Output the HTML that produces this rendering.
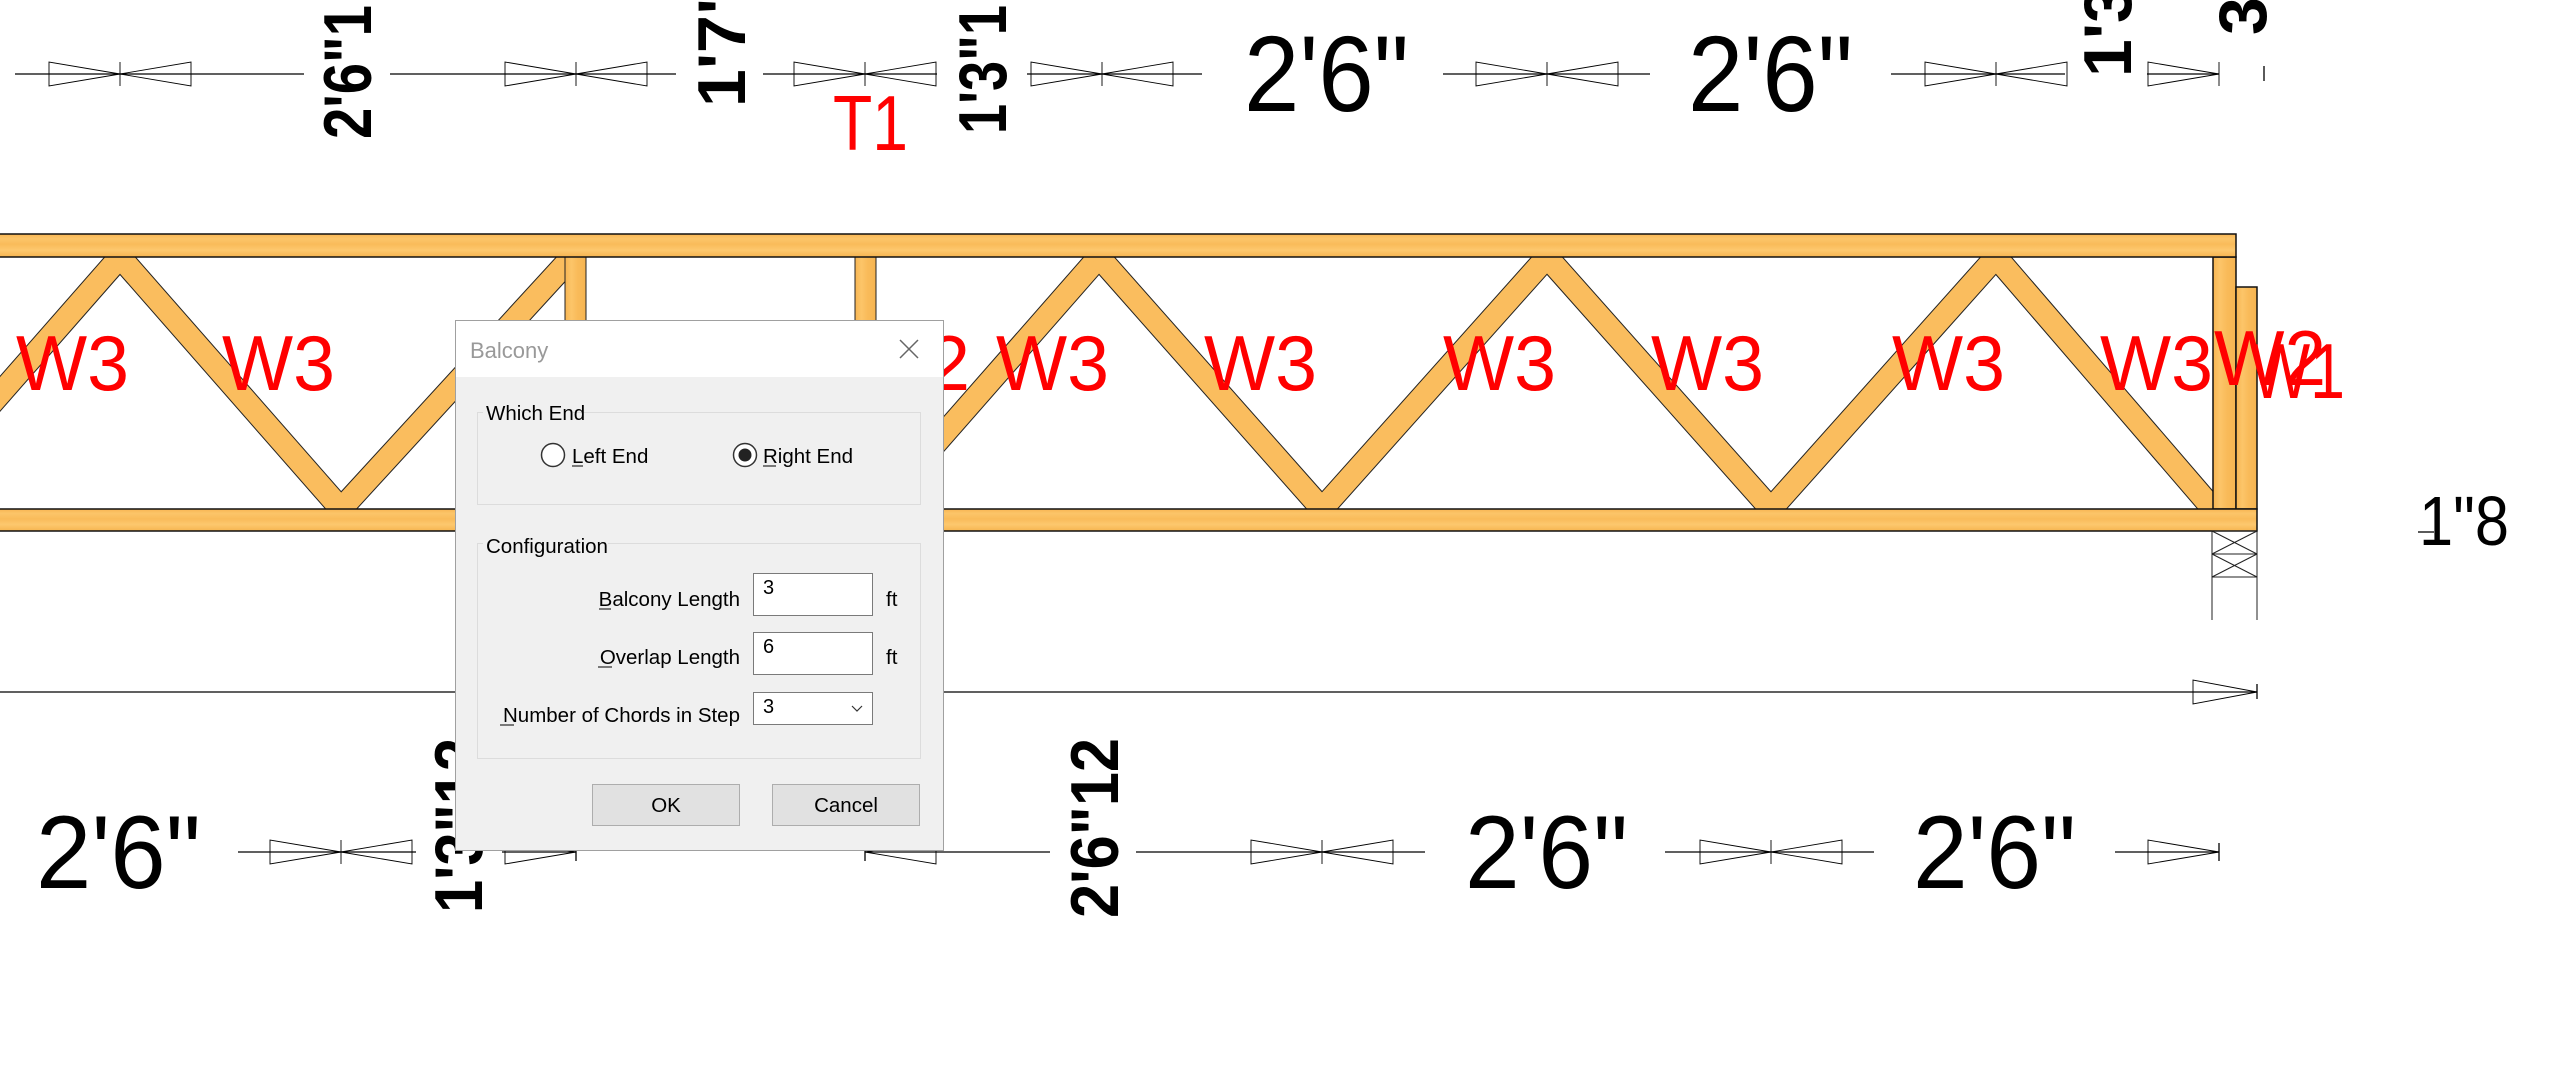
<!DOCTYPE html>
<html><head><meta charset="utf-8"><style>
html,body{margin:0;padding:0;background:#fff;width:2551px;height:1075px;overflow:hidden}
svg{display:block}
</style></head><body>
<svg width="2551" height="1075" viewBox="0 0 2551 1075" xmlns="http://www.w3.org/2000/svg" font-family="Liberation Sans, Arial, sans-serif">
<defs>
<linearGradient id="wh" x1="0" y1="0" x2="0" y2="1">
<stop offset="0" stop-color="#f7b552"/><stop offset="0.2" stop-color="#fcc569"/><stop offset="0.45" stop-color="#f9bb5a"/><stop offset="0.7" stop-color="#fdc86e"/><stop offset="1" stop-color="#f6b450"/>
</linearGradient>
<linearGradient id="wv" x1="0" y1="0" x2="1" y2="0">
<stop offset="0" stop-color="#f7b552"/><stop offset="0.3" stop-color="#fcc569"/><stop offset="0.6" stop-color="#f9bb5a"/><stop offset="1" stop-color="#f6b450"/>
</linearGradient>
</defs>
<g stroke-linecap="butt">
<g stroke="#222" stroke-width="24">
<line x1="120" y1="257" x2="-101" y2="509"/>
<line x1="120" y1="257" x2="341" y2="509"/>
<line x1="341" y1="509" x2="572" y2="257"/>
<line x1="878" y1="509" x2="1099" y2="257"/>
<line x1="1099" y1="257" x2="1322" y2="509"/>
<line x1="1322" y1="509" x2="1547" y2="257"/>
<line x1="1547" y1="257" x2="1771" y2="509"/>
<line x1="1771" y1="509" x2="1996" y2="257"/>
<line x1="1996" y1="257" x2="2213" y2="509"/>
</g>
<g stroke="#fabd5e" stroke-width="22">
<line x1="120" y1="257" x2="-101" y2="509"/>
<line x1="120" y1="257" x2="341" y2="509"/>
<line x1="341" y1="509" x2="572" y2="257"/>
<line x1="878" y1="509" x2="1099" y2="257"/>
<line x1="1099" y1="257" x2="1322" y2="509"/>
<line x1="1322" y1="509" x2="1547" y2="257"/>
<line x1="1547" y1="257" x2="1771" y2="509"/>
<line x1="1771" y1="509" x2="1996" y2="257"/>
<line x1="1996" y1="257" x2="2213" y2="509"/>
</g>
</g>
<rect x="565" y="257" width="21" height="252" fill="url(#wv)" stroke="#222" stroke-width="1"/>
<rect x="855" y="257" width="21" height="252" fill="url(#wv)" stroke="#222" stroke-width="1"/>
<rect x="2213" y="257" width="23" height="252" fill="url(#wv)" stroke="#111" stroke-width="1.5"/>
<rect x="2236" y="287" width="21" height="222" fill="url(#wv)" stroke="#111" stroke-width="1.5"/>
<rect x="-5" y="234" width="2241" height="23" fill="url(#wh)" stroke="#111" stroke-width="1.5"/>
<rect x="-5" y="509" width="2262" height="22" fill="url(#wh)" stroke="#111" stroke-width="1.5"/>
<g stroke="#222" stroke-width="1" fill="none">
<rect x="2212" y="531" width="45" height="23"/><rect x="2212" y="554" width="45" height="23"/>
<line x1="2212" y1="531" x2="2257" y2="554"/><line x1="2257" y1="531" x2="2212" y2="554"/>
<line x1="2212" y1="554" x2="2257" y2="577"/><line x1="2257" y1="554" x2="2212" y2="577"/>
<line x1="2212" y1="577" x2="2212" y2="620"/><line x1="2257" y1="577" x2="2257" y2="620"/>
</g>
<g stroke="#000" stroke-width="1.3" fill="none">
<line x1="15" y1="74" x2="304" y2="74"/><line x1="390" y1="74" x2="676" y2="74"/>
<line x1="763" y1="74" x2="937" y2="74"/><line x1="1027" y1="74" x2="1202" y2="74"/>
<line x1="1443" y1="74" x2="1650" y2="74"/><line x1="1891" y1="74" x2="2065" y2="74"/>
<line x1="2147" y1="74" x2="2219" y2="74"/><line x1="2264" y1="66" x2="2264" y2="81"/>
<line x1="0" y1="692" x2="2257" y2="692"/><line x1="2257" y1="684" x2="2257" y2="699"/>
<line x1="238" y1="852" x2="416" y2="852"/><line x1="502" y1="852" x2="576" y2="852"/>
<line x1="865" y1="852" x2="1050" y2="852"/><line x1="1136" y1="852" x2="1425" y2="852"/>
<line x1="1665" y1="852" x2="1874" y2="852"/><line x1="2115" y1="852" x2="2219" y2="852"/>
<line x1="576" y1="843" x2="576" y2="861"/><line x1="865" y1="843" x2="865" y2="861"/><line x1="2219" y1="843" x2="2219" y2="861"/>
<line x1="2418" y1="532" x2="2434" y2="532"/>
</g>
<g stroke="#000" stroke-width="0.9" fill="none">
<path d="M49 62L49 86L120 74ZM191 62L191 86L120 74ZM120 62V86"/>
<path d="M505 62L505 86L576 74ZM647 62L647 86L576 74ZM576 62V86"/>
<path d="M794 62L794 86L865 74ZM936 62L936 86L865 74ZM865 62V86"/>
<path d="M1031 62L1031 86L1102 74ZM1173 62L1173 86L1102 74ZM1102 62V86"/>
<path d="M1476 62L1476 86L1547 74ZM1618 62L1618 86L1547 74ZM1547 62V86"/>
<path d="M1925 62L1925 86L1996 74ZM2067 62L2067 86L1996 74ZM1996 62V86"/>
<path d="M2148 62L2148 86L2219 74ZM2219 62V86"/>
<path d="M2193 680L2193 704L2257 692Z"/>
<path d="M270 840L270 864L341 852ZM412 840L412 864L341 852ZM341 840V864"/>
<path d="M505 840L505 864L576 852Z"/>
<path d="M936 840L936 864L865 852Z"/>
<path d="M1251 840L1251 864L1322 852ZM1393 840L1393 864L1322 852ZM1322 840V864"/>
<path d="M1700 840L1700 864L1771 852ZM1842 840L1842 864L1771 852ZM1771 840V864"/>
<path d="M2148 840L2148 864L2219 852Z"/>
</g>
<g fill="#000">
<text transform="translate(371,139) rotate(-90)" font-size="68" font-weight="bold" textLength="134" lengthAdjust="spacingAndGlyphs">2'6"1</text>
<text transform="translate(745,107) rotate(-90)" font-size="68" font-weight="bold">1'7"</text>
<text transform="translate(1006,134) rotate(-90)" font-size="68" font-weight="bold" textLength="129" lengthAdjust="spacingAndGlyphs">1'3"1</text>
<text transform="translate(2131,77) rotate(-90)" font-size="68" font-weight="bold">1'3</text>
<text transform="translate(2266,35) rotate(-90)" font-size="68" font-weight="bold">3</text>
<text x="1244" y="111" font-size="108" textLength="165" lengthAdjust="spacingAndGlyphs">2'6"</text>
<text x="1688" y="111" font-size="108" textLength="165" lengthAdjust="spacingAndGlyphs">2'6"</text>
<text x="36" y="888" font-size="104" textLength="165" lengthAdjust="spacingAndGlyphs">2'6"</text>
<text x="1465" y="888" font-size="104" textLength="163" lengthAdjust="spacingAndGlyphs">2'6"</text>
<text x="1913" y="888" font-size="104" textLength="163" lengthAdjust="spacingAndGlyphs">2'6"</text>
<text transform="translate(482,913) rotate(-90)" font-size="68" font-weight="bold" textLength="175" lengthAdjust="spacingAndGlyphs">1'3"12</text>
<text transform="translate(1118,918) rotate(-90)" font-size="68" font-weight="bold" textLength="180" lengthAdjust="spacingAndGlyphs">2'6"12</text>
<text x="2419" y="545" font-size="70" textLength="90" lengthAdjust="spacingAndGlyphs">1"8</text>
</g>
<g fill="#ff0000" font-size="78">
<text x="833" y="150" textLength="75" lengthAdjust="spacingAndGlyphs">T1</text>
<text x="16" y="390" textLength="113" lengthAdjust="spacingAndGlyphs">W3</text>
<text x="222" y="390" textLength="113" lengthAdjust="spacingAndGlyphs">W3</text>
<text x="856" y="390" textLength="114" lengthAdjust="spacingAndGlyphs">W2</text>
<text x="996" y="390" textLength="113" lengthAdjust="spacingAndGlyphs">W3</text>
<text x="1204" y="390" textLength="113" lengthAdjust="spacingAndGlyphs">W3</text>
<text x="1443" y="390" textLength="113" lengthAdjust="spacingAndGlyphs">W3</text>
<text x="1651" y="390" textLength="113" lengthAdjust="spacingAndGlyphs">W3</text>
<text x="1892" y="390" textLength="113" lengthAdjust="spacingAndGlyphs">W3</text>
<text x="2100" y="390" textLength="113" lengthAdjust="spacingAndGlyphs">W3</text>
<text x="2214" y="385" textLength="112" lengthAdjust="spacingAndGlyphs">W2</text>
<text x="2251" y="398" textLength="94" lengthAdjust="spacingAndGlyphs">W1</text>
</g>
<g font-family="Liberation Sans, Arial, sans-serif">
<rect x="455.5" y="320.5" width="488" height="530" fill="#f0f0f0" stroke="#a0a0a0"/>
<rect x="456" y="321" width="487" height="56" fill="#ffffff"/>
<text x="470" y="358" font-size="22" fill="#999">Balcony</text>
<path d="M900 340L918 358M918 340L900 358" stroke="#666" stroke-width="1.5"/>
<rect x="477.5" y="412.5" width="443" height="92" fill="none" stroke="#dcdcdc"/>
<rect x="483" y="404" width="90" height="16" fill="#f0f0f0"/>
<text x="486" y="420" font-size="20.5" fill="#000">Which End</text>
<circle cx="553" cy="455" r="11.5" fill="#fff" stroke="#333" stroke-width="1.5"/>
<text x="572" y="463" font-size="20.5" fill="#000">Left End</text>
<line x1="572" y1="466" x2="583" y2="466" stroke="#000"/>
<circle cx="745" cy="455" r="11.5" fill="#fff" stroke="#333" stroke-width="1.5"/>
<circle cx="745" cy="455" r="6.5" fill="#222"/>
<text x="763" y="463" font-size="20.5" fill="#000">Right End</text>
<line x1="763" y1="466" x2="776" y2="466" stroke="#000"/>
<rect x="477.5" y="543.5" width="443" height="215" fill="none" stroke="#dcdcdc"/>
<rect x="483" y="535" width="125" height="16" fill="#f0f0f0"/>
<text x="486" y="553" font-size="20.5" fill="#000">Configuration</text>
<text x="740" y="606" font-size="20.5" text-anchor="end" fill="#000">Balcony Length</text>
<line x1="599" y1="609" x2="611" y2="609" stroke="#000"/>
<rect x="753.5" y="573.5" width="119" height="42" fill="#fff" stroke="#7a7a7a"/>
<text x="763" y="594" font-size="20" fill="#000">3</text>
<text x="886" y="606" font-size="20.5" fill="#000">ft</text>
<text x="740" y="664" font-size="20.5" text-anchor="end" fill="#000">Overlap Length</text>
<line x1="598" y1="667" x2="612" y2="667" stroke="#000"/>
<rect x="753.5" y="632.5" width="119" height="42" fill="#fff" stroke="#7a7a7a"/>
<text x="763" y="653" font-size="20" fill="#000">6</text>
<text x="886" y="664" font-size="20.5" fill="#000">ft</text>
<text x="740" y="722" font-size="20.5" text-anchor="end" fill="#000">Number of Chords in Step</text>
<line x1="500" y1="725" x2="514" y2="725" stroke="#000"/>
<rect x="753.5" y="692.5" width="119" height="32" fill="#fff" stroke="#7a7a7a"/>
<text x="763" y="713" font-size="20" fill="#000">3</text>
<path d="M852 706L857 711L862 706" stroke="#333" fill="none" stroke-width="1.2"/>
<rect x="592.5" y="784.5" width="147" height="41" fill="#e1e1e1" stroke="#adadad"/>
<text x="666" y="812" font-size="20.5" text-anchor="middle" fill="#000">OK</text>
<rect x="772.5" y="784.5" width="147" height="41" fill="#e1e1e1" stroke="#adadad"/>
<text x="846" y="812" font-size="20.5" text-anchor="middle" fill="#000">Cancel</text>
</g>
</svg>
</body></html>
